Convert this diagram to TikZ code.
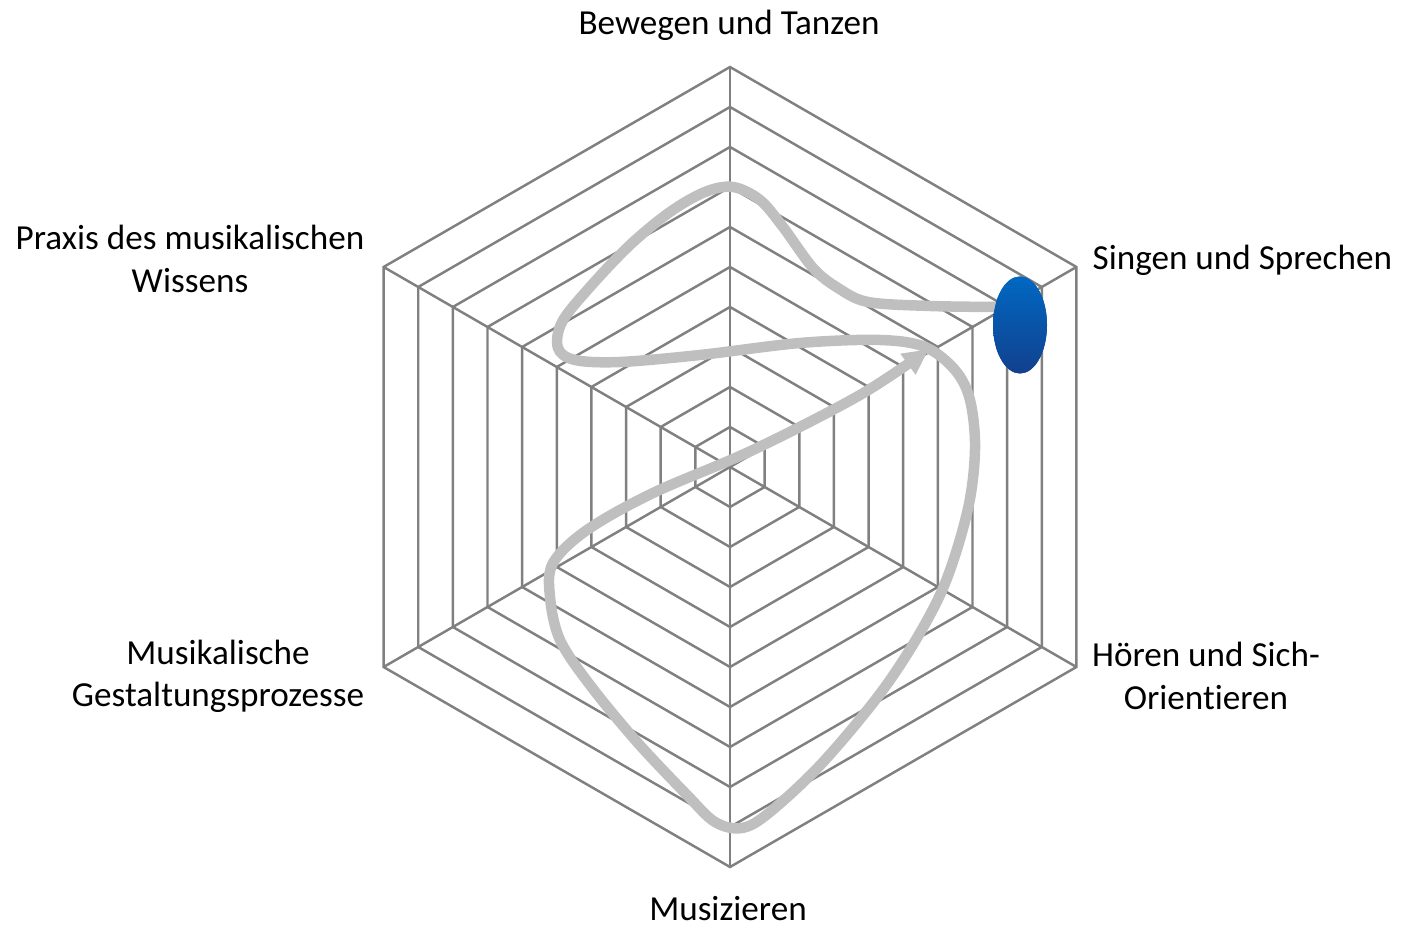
\documentclass[tikz,border=0pt]{standalone}
\usepackage{fontspec}
\setmainfont{Carlito}[Ligatures=NoCommon]
\usetikzlibrary{shapes.geometric,arrows.meta}

\definecolor{webgray}{RGB}{128,128,128}
\definecolor{pathgray}{RGB}{191,191,191}
\definecolor{dottop}{RGB}{0,104,194}
\definecolor{dotbottom}{RGB}{18,64,142}

\tikzset{
  webline/.style={draw=webgray,line width=0.7pt},
  axislabel/.style={align=center,inner sep=0pt,font=\fontsize{10}{12}\selectfont},
  pathline/.style={draw=pathgray,line width=1.05mm,line cap=round,line join=round},
  dot/.style={ellipse,inner sep=0pt,minimum width=5.4mm,minimum height=9.7mm,top color=dottop,bottom color=dotbottom}
}

\begin{document}
\begin{tikzpicture}[x=0.1mm,y=-0.1mm]
    \useasboundingbox (0,0) rectangle (1404,927);

    % web of the chart
    \begin{scope}[shift={(730,467)}]
        \foreach \r in {40,80,...,400}
            \draw[webline] (30:\r) -- (90:\r) -- (150:\r) -- (210:\r) -- (270:\r) -- (330:\r) -- cycle;
        \foreach \a in {30,90,...,330}
            \draw[webline] (0,0) -- (\a:400);
    \end{scope}

    \node[axislabel] (tanzen) at (729,25) {Bewegen und Tanzen};
    \node[axislabel,anchor=west] (singen) at (1092,260) {Singen und Sprechen};
    \node[axislabel] (hoeren) at (1206,676) {Hören und Sich-\\Orientieren};
    \node[axislabel] (musizieren) at (728,909) {Musizieren};
    \node[axislabel] (gestaltung) at (218,676) {Musikalische\\Gestaltungsprozesse};
    \node[axislabel] (praxis) at (190,259) {Praxis des musikalischen\\Wissens};

    \node[dot] (dot) at (1020,325) {};
    \coordinate (tip) at (929,349);

    \draw[pathline,-{Triangle[length=2.6mm,width=2.4mm]}] plot[smooth,tension=0.55] coordinates {
        (dot.145) (930,306) (868,302) (838,288) (813,268) (783,227) (760,200) (733,187)
        (705,192) (670,212) (630,245) (590,287) (562,322) (558,348) (575,360) (620,362)
        (700,355) (800,343) (880,340) (925,347) (955,370) (970,400) (975,450) (967,513)
        (940,595) (890,680) (825,760) (770,812) (742,828) (715,822) (687,795) (637,742)
        (590,685) (560,640) (550,597) (553,563) (587,530) (653,493) (753,450) (860,395)
        (tip)};

    \node[dot] at (dot) {};
\end{tikzpicture}
\end{document}
